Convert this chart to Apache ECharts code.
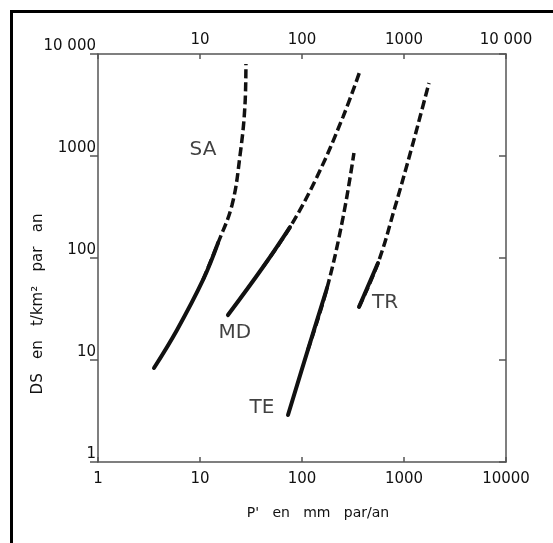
<!DOCTYPE html>
<html>
<head>
<meta charset="utf-8">
<script src="https://cdn.jsdelivr.net/npm/echarts@6/dist/echarts.min.js"></script>
<style>
  html, body { margin: 0; padding: 0; background: #fff; }
  #chart { width: 553px; height: 543px; }
</style>
</head>
<body>
<div id="chart"></div>
<script>
// curves, [P' mm/an, DS t/km2/an]
const saSolid = [[3.54, 8.35], [5.95, 19.7], [10.7, 60.9], [15.0, 140]];
const saDashed = [[15.0, 140], [20.6, 331], [24.7, 1020], [27.6, 3160], [28.2, 7980]];
const mdSolid = [[18.8, 27.6], [41.5, 81.6], [76.3, 201]];
const mdDashed = [[76.3, 201], [140, 623], [252, 2410], [370, 6810]];
const teSolid = [[72.9, 2.89], [114, 12.5], [176, 50.8]];
const teDashed = [[176, 50.8], [252, 247], [323, 1070]];
const trSolid = [[362, 33.1], [556, 89.3]];
const trDashed = [[556, 89.3], [816, 316], [1197, 1225], [1435, 2410], [1758, 5200]];

// curve names and where they sit
const curveNames = ['SA', 'MD', 'TE', 'TR'];
const curveNamePos = [[10.7, 1145], [22, 18.4], [40.5, 3.38], [651, 36.2]];

const ink = '#111';
const axisInk = '#555';
const font = 'DejaVu Sans';

// the dashed layer starts one point back inside the solid part so the bend
// stays smooth; the solid layer is painted over that overlap
function curvePair(solid, dashed) {
  const base = {
    type: 'line',
    smooth: 0.4,
    showSymbol: false,
    silent: true
  };
  return [
    Object.assign({}, base, {
      data: solid.slice(-2, -1).concat(dashed),
      z: 2,
      lineStyle: {color: ink, width: 3.5, type: [9, 4], cap: 'butt'}
    }),
    Object.assign({}, base, {
      data: solid,
      z: 3,
      lineStyle: {color: ink, width: 4, type: 'solid', cap: 'round'}
    })
  ];
}

function fmtSpace(v) {
  return v === 10000 ? '10 000' : String(v);
}

const chart = echarts.init(document.getElementById('chart'), null, {renderer: 'canvas', width: 553, height: 543});

const baseAxis = {
  type: 'log',
  logBase: 10,
  min: 1,
  max: 10000,
  axisLine: {lineStyle: {color: axisInk, width: 1.5}},
  splitLine: {show: false},
  minorTick: {show: false},
  axisTick: {inside: true, length: 5, lineStyle: {color: axisInk, width: 1.5}},
  axisLabel: {color: ink, fontFamily: font, fontSize: 15}
};

const option = {
  animation: false,
  backgroundColor: '#fff',
  grid: {left: 98, top: 54, width: 408, height: 408, containLabel: false},
  xAxis: [
    Object.assign({}, baseAxis, {
      position: 'bottom',
      axisLabel: Object.assign({}, baseAxis.axisLabel, {margin: 10, formatter: v => String(v)})
    }),
    Object.assign({}, baseAxis, {
      position: 'top',
      axisLabel: Object.assign({}, baseAxis.axisLabel, {
        margin: 6,
        formatter: v => (v === 1 ? '' : fmtSpace(v))
      })
    })
  ],
  yAxis: [
    Object.assign({}, baseAxis, {
      position: 'left',
      axisTick: {inside: false, length: 8, lineStyle: {color: axisInk, width: 1.5}},
      axisLabel: Object.assign({}, baseAxis.axisLabel, {
        margin: 2,
        verticalAlign: 'bottom',
        formatter: fmtSpace
      })
    }),
    Object.assign({}, baseAxis, {
      position: 'right',
      axisTick: {inside: true, length: 7, lineStyle: {color: axisInk, width: 1.5}},
      axisLabel: {show: false}
    })
  ],
  series: [].concat(
    curvePair(saSolid, saDashed),
    curvePair(mdSolid, mdDashed),
    curvePair(teSolid, teDashed),
    curvePair(trSolid, trDashed),
    [{
      type: 'scatter',
      symbolSize: 0,
      silent: true,
      data: curveNamePos.map((p, i) => ({value: p, name: curveNames[i]})),
      label: {
        show: true,
        position: 'inside',
        formatter: p => p.name,
        color: ink,
        fontFamily: font,
        fontSize: 20
      }
    }]
  ),
  graphic: [
    // scan frame
    {type: 'line', shape: {x1: 10, y1: 11.5, x2: 553, y2: 11.5}, style: {stroke: '#000', lineWidth: 3}},
    {type: 'line', shape: {x1: 11.5, y1: 10, x2: 11.5, y2: 543}, style: {stroke: '#000', lineWidth: 3}},
    {
      type: 'text', x: 318, y: 513,
      style: {text: "P'   en   mm   par/an", font: '14px "DejaVu Sans"', fill: ink, textAlign: 'center', textVerticalAlign: 'middle'}
    },
    {
      type: 'text', x: 38, y: 304, rotation: Math.PI / 2,
      style: {text: 'DS   en   t/km²   par   an', font: '15px "DejaVu Sans"', fill: ink, textAlign: 'center', textVerticalAlign: 'middle'}
    }
  ]
};

option && chart.setOption(option);
</script>
</body>
</html>
